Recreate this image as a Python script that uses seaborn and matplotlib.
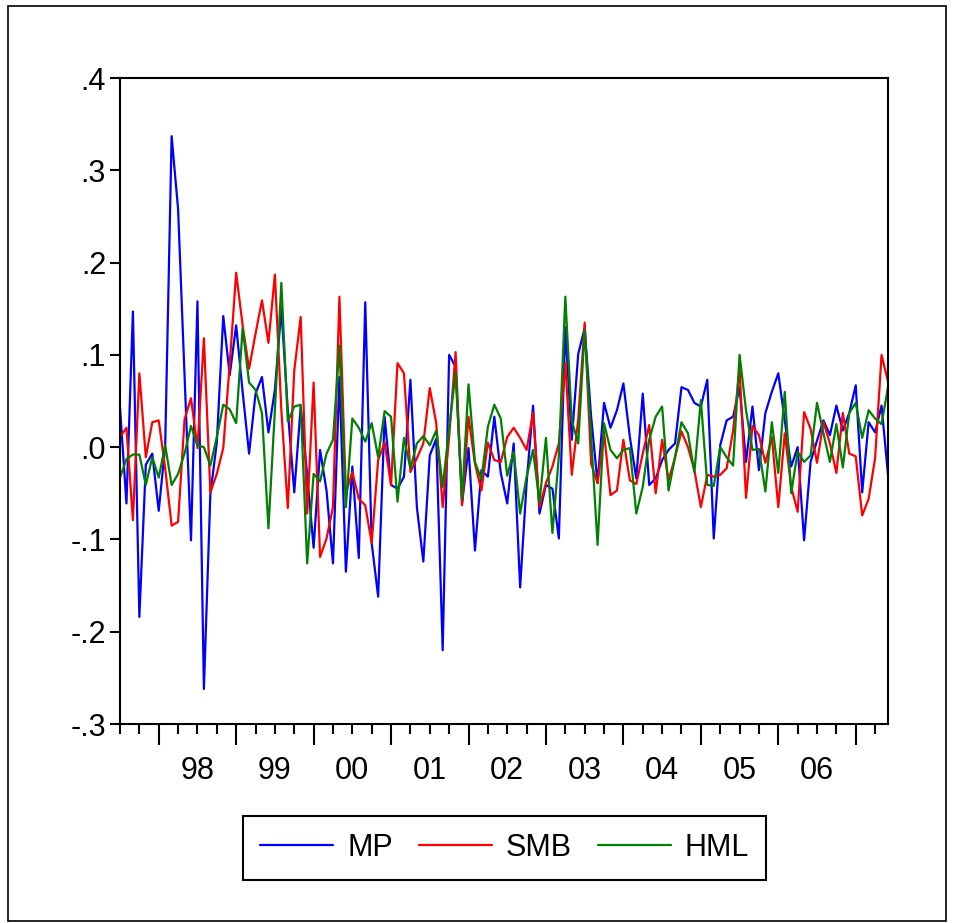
import numpy as np
import pandas as pd
import seaborn as sns
import matplotlib.pyplot as plt
from matplotlib.lines import Line2D

# monthly returns, 1997M07 .. 2007M06
mp = [0.043, -0.061, 0.147, -0.184, -0.019, -0.007, -0.069, 0.001, 0.337, 0.258,
      0.078, -0.101, 0.158, -0.262, -0.051, 0.005, 0.142, 0.078, 0.132, 0.060,
      -0.007, 0.058, 0.076, 0.016, 0.062, 0.150, 0.040, -0.049, 0.044, -0.030,
      -0.109, -0.003, -0.047, -0.126, 0.076, -0.135, -0.021, -0.120, 0.157, -0.104,
      -0.162, 0.033, -0.041, -0.045, -0.032, 0.073, -0.065, -0.124, -0.009, 0.009,
      -0.220, 0.100, 0.087, -0.061, -0.001, -0.112, -0.025, -0.032, 0.033, -0.028,
      -0.061, 0.004, -0.152, -0.039, 0.045, -0.072, -0.041, -0.045, -0.099, 0.130,
      0.008, 0.101, 0.129, 0.033, -0.039, 0.048, 0.021, 0.040, 0.069, 0.011,
      -0.034, 0.058, -0.041, -0.034, -0.014, -0.003, 0.004, 0.065, 0.062, 0.048,
      0.044, 0.073, -0.099, 0.002, 0.029, 0.033, 0.065, -0.016, 0.044, -0.025,
      0.037, 0.060, 0.080, 0.029, -0.021, 0.000, -0.101, -0.016, 0.007, 0.029,
      0.013, 0.045, 0.018, 0.037, 0.067, -0.049, 0.027, 0.016, 0.045, -0.030]

smb = [0.011, 0.021, -0.079, 0.080, -0.011, 0.027, 0.029, -0.023, -0.085, -0.081,
       0.030, 0.053, -0.001, 0.118, -0.049, -0.029, -0.001, 0.090, 0.189, 0.132,
       0.085, 0.123, 0.159, 0.113, 0.187, 0.040, -0.066, 0.083, 0.141, -0.072,
       0.070, -0.119, -0.099, -0.065, 0.163, -0.050, -0.027, -0.056, -0.063, -0.104,
       -0.014, 0.005, -0.041, 0.091, 0.080, -0.027, -0.012, 0.004, 0.064, 0.026,
       -0.065, 0.011, 0.103, -0.063, 0.033, -0.018, -0.047, 0.005, -0.014, -0.016,
       0.011, 0.021, 0.010, -0.003, 0.037, -0.065, -0.039, -0.021, 0.004, 0.091,
       -0.030, 0.030, 0.135, -0.018, -0.039, 0.016, -0.052, -0.047, 0.008, -0.036,
       -0.040, -0.007, 0.024, -0.050, 0.008, -0.036, -0.011, 0.017, 0.000, -0.025,
       -0.065, -0.030, -0.032, -0.030, -0.023, 0.018, 0.085, -0.055, 0.023, 0.013,
       -0.017, 0.011, -0.065, 0.015, -0.043, -0.070, 0.038, 0.020, -0.017, 0.027,
       0.004, -0.028, 0.037, -0.007, -0.010, -0.074, -0.056, -0.012, 0.100, 0.071]

hml = [-0.033, -0.013, -0.008, -0.008, -0.041, -0.011, -0.033, 0.002, -0.041, -0.029,
       -0.007, 0.023, 0.002, 0.000, -0.020, 0.011, 0.046, 0.041, 0.026, 0.129,
       0.070, 0.062, 0.037, -0.088, 0.040, 0.178, 0.028, 0.044, 0.046, -0.126,
       -0.029, -0.037, -0.007, 0.008, 0.110, -0.065, 0.031, 0.021, 0.006, 0.026,
       -0.011, 0.039, 0.033, -0.059, 0.010, -0.023, 0.004, 0.012, 0.002, 0.018,
       -0.043, 0.020, 0.081, -0.056, 0.068, -0.016, -0.035, 0.022, 0.046, 0.031,
       -0.031, -0.005, -0.072, -0.032, -0.003, -0.060, 0.010, -0.093, -0.010, 0.163,
       0.029, 0.004, 0.127, 0.011, -0.106, 0.026, -0.003, -0.012, -0.003, -0.001,
       -0.072, -0.043, 0.008, 0.033, 0.044, -0.047, -0.011, 0.027, 0.015, -0.027,
       0.051, -0.041, -0.042, 0.000, -0.011, -0.020, 0.100, 0.040, -0.003, -0.002,
       -0.048, 0.027, -0.028, 0.060, -0.050, -0.005, -0.016, -0.009, 0.048, 0.015,
       -0.016, 0.025, -0.022, 0.037, 0.048, 0.010, 0.040, 0.031, 0.025, 0.065]

series_names = ['MP', 'SMB', 'HML']
series_colors = ['#0000ff', '#ff0000', '#008000']
year_labels = ['98', '99', '00', '01', '02', '03', '04', '05', '06']
y_ticks = [-0.3, -0.2, -0.1, 0.0, 0.1, 0.2, 0.3, 0.4]
y_labels = ['-.3', '-.2', '-.1', '.0', '.1', '.2', '.3', '.4']

sns.set_style("white")
plt.rcParams['font.family'] = ['Liberation Sans', 'DejaVu Sans']
plt.rcParams['text.color'] = 'black'
plt.rcParams['xtick.color'] = 'black'
plt.rcParams['ytick.color'] = 'black'

df = pd.DataFrame({'t': np.arange(len(mp)), 'MP': mp, 'SMB': smb, 'HML': hml})
df = df.melt('t', var_name='series', value_name='value')

fig = plt.figure(figsize=(9.54, 9.23), dpi=100)
ax = fig.add_axes([120/954, 199/923, 768/954, 646/923])

sns.lineplot(data=df, x='t', y='value', hue='series', hue_order=series_names,
             palette=dict(zip(series_names, series_colors)), lw=1.6,
             legend=False, ax=ax)

n = len(mp)
ax.set_xlim(0, n - 1)
ax.set_ylim(-0.3, 0.4)
ax.set_xlabel('')
ax.set_ylabel('')

ax.set_yticks(y_ticks, labels=y_labels)
ax.tick_params(axis='y', direction='out', length=7, width=1.5, labelsize=22, pad=3, left=True)

# long ticks at year starts (January), short ticks at quarters, labels at mid-year
year_starts = list(range(6, n, 12))
quarters = [q for q in range(0, n, 3) if (q - 6) % 12 != 0]
qlabels = []
for q in quarters:
    k = (q - 12) // 12
    if (q - 12) % 12 == 0 and 0 <= k < len(year_labels):
        qlabels.append(year_labels[k])
    else:
        qlabels.append('')
ax.set_xticks(year_starts, labels=[''] * len(year_starts))
ax.set_xticks(quarters, labels=qlabels, minor=True)
ax.tick_params(axis='x', which='major', direction='out', length=15, width=1.5, bottom=True)
ax.tick_params(axis='x', which='minor', direction='out', length=7, width=1.5,
               labelsize=22, pad=16, bottom=True)

for s in ax.spines.values():
    s.set_color('black')
    s.set_linewidth(1.5)

handles = [Line2D([], [], color=c, lw=1.6) for c in series_colors]
leg = fig.legend(handles, series_names, ncol=3, loc='center',
                 bbox_to_anchor=(0.529, 0.0813), frameon=True, fancybox=False,
                 edgecolor='black', fontsize=22, handlelength=2.4,
                 handletextpad=0.45, columnspacing=0.85, borderpad=0.55)
leg.get_frame().set_linewidth(1.5)
leg.get_frame().set_alpha(1)

# outer frame
fig.add_artist(plt.Rectangle((8/954, 2/923), 938/954, 915/923, transform=fig.transFigure,
                             fill=False, edgecolor='black', lw=1.2))

fig.savefig('out.png', dpi=100)
